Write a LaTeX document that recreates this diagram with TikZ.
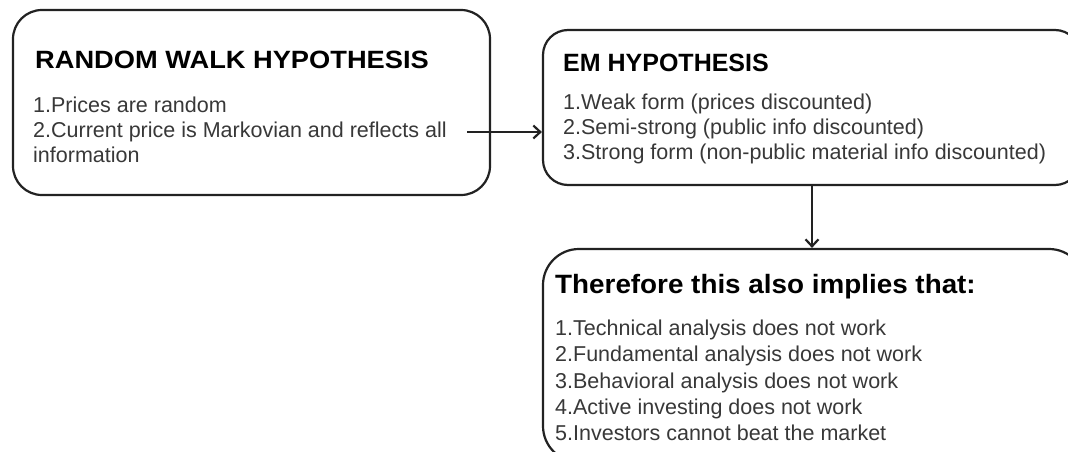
\documentclass[tikz,border=0pt]{standalone}
\usepackage{fontspec}
\setmainfont{Liberation Sans}
\newfontfamily\titlefont[FakeStretch=1.09]{Liberation Sans}
\newfontfamily\titlefontb[FakeStretch=1.05]{Liberation Sans}
\usetikzlibrary{arrows.meta}
\definecolor{itemgray}{HTML}{383838}
\definecolor{linegray}{HTML}{222222}
\tikzset{
  box/.style={draw=linegray, line width=2.2pt, rounded corners=#1, fill=white, inner sep=0pt},
  title/.style={anchor=base west, inner sep=0pt, text=black, font=\titlefont\bfseries\fontsize{25}{30}\selectfont},
  titleem/.style={anchor=base west, inner sep=0pt, text=black, font=\bfseries\fontsize{25}{30}\selectfont},
  titleb/.style={anchor=base west, inner sep=0pt, text=black, font=\titlefontb\bfseries\fontsize{26.5}{30}\selectfont},
  item/.style={anchor=base west, inner sep=0pt, text=itemgray, font=\fontsize{21.5}{25}\selectfont},
  conn/.style={draw=linegray, line width=2.2pt, -{Straight Barb[length=7pt,width=13pt,line width=2.2pt]}}
}
\begin{document}
\begin{tikzpicture}[x=1pt,y=-1pt]
\clip (0,0) rectangle (1068,452);
\fill[white] (0,0) rectangle (1068,452);
% boxes
\node[box=29pt, minimum width=477pt, minimum height=185pt] (rw) at (251.5,102.5) {};
\node[box=25pt, minimum width=537pt, minimum height=155pt] (em) at (811.5,107.5) {};
\node[box=36pt, minimum width=542pt, minimum height=213pt] (th) at (814,355.5) {};
% box 1 text
\node[title] (rwt) at (35,69) {RANDOM WALK HYPOTHESIS};
\node[item] (rw1) at (33,112) {1.Prices are random};
\node[item] (rw2) at (33,137) {2.Current price is Markovian and reflects all};
\node[item] (rw3) at (33,162) {information};
% box 2 text
\node[titleem] (emt) at (563,72) {EM HYPOTHESIS};
\node[item] (em1) at (563,109) {1.Weak form (prices discounted)};
\node[item] (em2) at (563,134) {2.Semi-strong (public info discounted)};
\node[item] (em3) at (563,159) {3.Strong form (non-public material info discounted)};
% box 3 text
\node[titleb] (tht) at (555,293) {Therefore this also implies that:};
\node[item] (th1) at (555,335) {1.Technical analysis does not work};
\node[item] (th2) at (555,361) {2.Fundamental analysis does not work};
\node[item] (th3) at (555,388) {3.Behavioral analysis does not work};
\node[item] (th4) at (555,414) {4.Active investing does not work};
\node[item] (th5) at (555,440) {5.Investors cannot beat the market};
% connectors
\coordinate (a1) at (467,132);
\coordinate (a2) at (812,185);
\draw[conn] (a1) -- (a1 -| em.west);
\draw[conn] (a2 |- em.south) -- (a2 |- th.north);
\end{tikzpicture}
\end{document}
